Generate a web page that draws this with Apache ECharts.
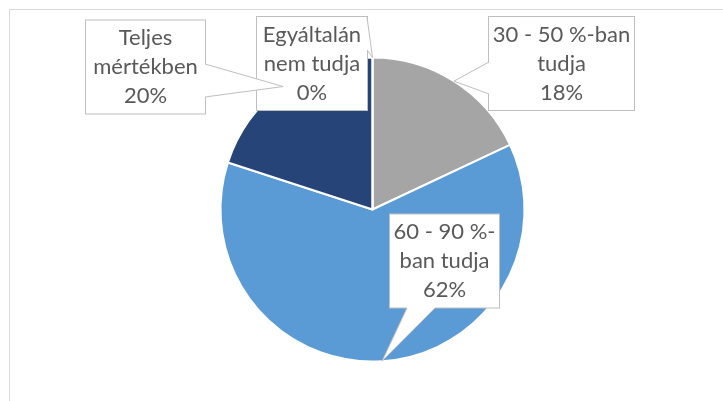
<!DOCTYPE html>
<html>
<head>
<meta charset="utf-8">
<script src="https://cdn.jsdelivr.net/npm/echarts@6/dist/echarts.min.js"></script>
<style>
  html, body { margin: 0; padding: 0; background: #fff; }
  #chart { width: 723px; height: 401px; }
</style>
</head>
<body>
<div id="chart"></div>
<script>
// Slices, clockwise from 12 o'clock
const categories = ['30 - 50 %-ban\ntudja', '60 - 90 %-\nban tudja', 'Teljes\nmértékben', 'Egyáltalán\nnem tudja'];
const values = [18, 62, 20, 0];
const sliceColors = ['#A5A5A5', '#5B9BD5', '#264478', '#264478'];

// Callout boxes (layout only): box rect, side the wedge leaves from, wedge base span
const callouts = [
    { x: 489, y: 17, w: 145, h: 93, side: 'left', from: 62, to: 94 },
    { x: 390, y: 214, w: 109, h: 94, side: 'bottom', from: 407, to: 435 },
    { x: 86, y: 20, w: 119, h: 94, side: 'right', from: 64, to: 97 },
    { x: 257, y: 17, w: 110, h: 93, side: 'right', from: 17, to: 50 }
];

const chart = echarts.init(document.getElementById('chart'));

const option = {
    animation: false,
    backgroundColor: '#fff',
    graphic: [{
        type: 'rect',
        silent: true,
        shape: { x: 9.5, y: 9.5, width: 760, height: 420 },
        style: { fill: 'none', stroke: '#D9D9D9', lineWidth: 1 }
    }],
    series: [{
        type: 'pie',
        silent: true,
        center: [372.5, 209.5],
        radius: 152,
        startAngle: 90,
        clockwise: true,
        avoidLabelOverlap: false,
        itemStyle: { borderColor: '#fff', borderWidth: 2 },
        label: {
            show: true,
            fontFamily: 'Lato',
            fontSize: 22,
            color: '#595959',
            lineHeight: 29,
            align: 'center',
            overflow: 'none',
            padding: [3, 0, 3, 0],
            backgroundColor: '#fff',
            borderColor: '#BFBFBF',
            borderWidth: 1,
            formatter: function (p) {
                return p.name + '\n' + Math.round(p.percent) + '%';
            }
        },
        labelLine: { show: false },
        labelLayout: function (p) {
            const c = callouts[p.dataIndex];
            return {
                x: c.x + c.w / 2,
                y: c.y + c.h / 2,
                align: 'center',
                verticalAlign: 'middle'
            };
        },
        data: categories.map(function (name, i) {
            return {
                name: name,
                value: values[i],
                itemStyle: { color: sliceColors[i] },
                label: { width: callouts[i].w }
            };
        })
    }]
};

chart.setOption(option);

// Callout wedges pointing at each slice's outer edge (taken from the pie layout)
function drawCallouts() {
    const data = chart.getModel().getSeriesByIndex(0).getData();
    const elements = [];
    callouts.forEach(function (c, i) {
        const l = data.getItemLayout(i);
        const mid = (l.startAngle + l.endAngle) / 2;
        const tip = [l.cx + l.r * Math.cos(mid), l.cy + l.r * Math.sin(mid)];
        let a, b, ai, bi;
        if (c.side === 'left') {
            a = [c.x, c.from]; b = [c.x, c.to];
            ai = [c.x + 3, c.from]; bi = [c.x + 3, c.to];
        } else if (c.side === 'right') {
            a = [c.x + c.w, c.from]; b = [c.x + c.w, c.to];
            ai = [c.x + c.w - 3, c.from]; bi = [c.x + c.w - 3, c.to];
        } else {
            a = [c.from, c.y + c.h]; b = [c.to, c.y + c.h];
            ai = [c.from, c.y + c.h - 3]; bi = [c.to, c.y + c.h - 3];
        }
        elements.push({
            type: 'polygon', silent: true, z: 20,
            shape: { points: [ai, a, tip, b, bi] },
            style: { fill: '#fff', stroke: 'none' }
        });
        elements.push({
            type: 'polyline', silent: true, z: 21,
            shape: { points: [a, tip, b] },
            style: { fill: 'none', stroke: '#BFBFBF', lineWidth: 1 }
        });
    });
    chart.setOption({ graphic: option.graphic.concat(elements) });
}

drawCallouts();
</script>
</body>
</html>
